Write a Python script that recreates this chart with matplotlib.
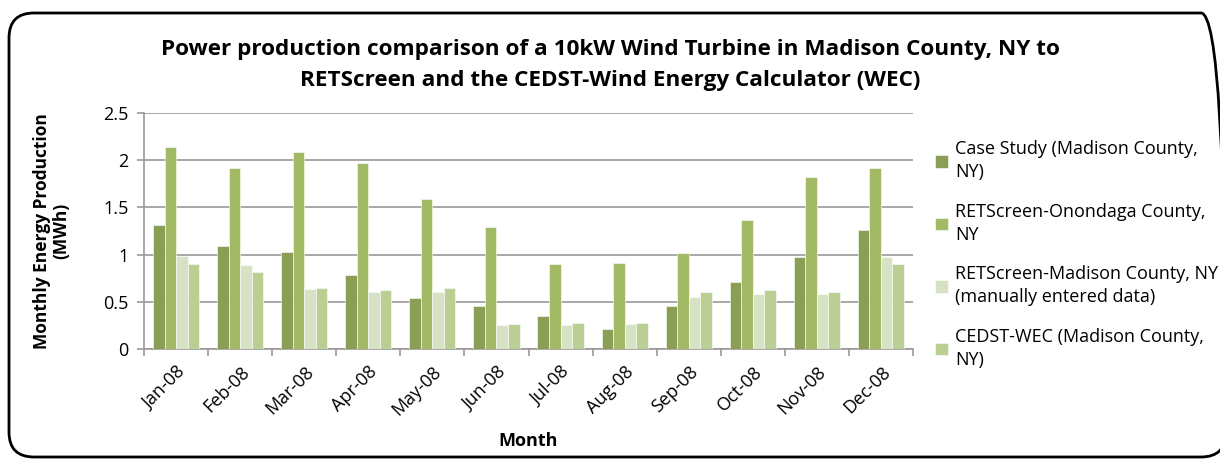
import numpy as np
import matplotlib
matplotlib.use("Agg")
import matplotlib.pyplot as plt
from matplotlib.patches import FancyBboxPatch

plt.rcParams['font.family'] = ['Open Sans', 'DejaVu Sans']

months = ['Jan-08', 'Feb-08', 'Mar-08', 'Apr-08', 'May-08', 'Jun-08',
          'Jul-08', 'Aug-08', 'Sep-08', 'Oct-08', 'Nov-08', 'Dec-08']

case_study = [1.31, 1.09, 1.03, 0.78, 0.54, 0.46, 0.35, 0.21, 0.46, 0.71, 0.97, 1.26]
ret_onondaga = [2.14, 1.92, 2.09, 1.97, 1.59, 1.29, 0.90, 0.91, 1.02, 1.37, 1.82, 1.92]
ret_madison = [0.99, 0.89, 0.64, 0.60, 0.60, 0.25, 0.25, 0.26, 0.55, 0.58, 0.58, 0.97]
cedst_wec = [0.90, 0.82, 0.65, 0.63, 0.65, 0.27, 0.28, 0.28, 0.60, 0.62, 0.60, 0.90]

labels = ['Case Study (Madison County,\nNY)',
          'RETScreen-Onondaga County,\nNY',
          'RETScreen-Madison County, NY\n(manually entered data)',
          'CEDST-WEC (Madison County,\nNY)']
colors = ['#8a9f55', '#a1ba63', '#d7e1c4', '#bbcf95']

fig = plt.figure(figsize=(12.2, 4.59), dpi=100)
ax = fig.add_axes([144/1220, 1 - 349/459, (913-144)/1220, (349-113)/459])

x = np.arange(len(months))
w = 0.18
series = [case_study, ret_onondaga, ret_madison, cedst_wec]
for i, (vals, c, lab) in enumerate(zip(series, colors, labels)):
    ax.bar(x + (i - 1.5) * w, vals, w, color=c, label=lab, edgecolor='white', linewidth=0.4, zorder=3)

ax.set_xlim(-0.5, len(months) - 0.5)
ax.set_ylim(0, 2.5)
ax.set_yticks([0, 0.5, 1, 1.5, 2, 2.5])
ax.set_yticklabels(['0', '0.5', '1', '1.5', '2', '2.5'], fontsize=13)
ax.yaxis.grid(True, color='#999999', linewidth=1.2, zorder=0)

ax.set_xticks(x)
ax.set_xticklabels(months, rotation=45, ha='right', rotation_mode='anchor', fontsize=13)
ax.set_xticks(np.arange(-0.5, len(months)), minor=True)
ax.tick_params(axis='x', which='major', length=0, pad=10)
ax.tick_params(axis='x', which='minor', length=5, color='#999999', width=1.2)
ax.tick_params(axis='y', length=5, color='#999999', width=1.2, pad=6)

for s in ['top', 'right']:
    ax.spines[s].set_visible(False)
for s in ['left', 'bottom']:
    ax.spines[s].set_color('#999999')
    ax.spines[s].set_linewidth(1.2)

ax.set_xlabel('Month', fontsize=13, fontweight='bold', labelpad=9)
ax.set_ylabel('Monthly Energy Production\n(MWh)', fontsize=12.5, fontweight='bold', labelpad=24,
              linespacing=1.1)

fig.suptitle('Power production comparison of a 10kW Wind Turbine in Madison County, NY to\n'
             'RETScreen and the CEDST-Wind Energy Calculator (WEC)',
             fontsize=16.2, fontweight='bold', y=0.915, linespacing=1.6)

leg = ax.legend(loc='upper left', bbox_to_anchor=(928/1220, 1 - 133/459), bbox_transform=fig.transFigure,
                frameon=False, fontsize=13, handlelength=0.7, handleheight=0.7, handletextpad=0.4,
                labelspacing=1.2, borderaxespad=0)
for t in leg.get_texts():
    t.set_linespacing(1.35)

# rounded chart-area border, in pixels
frame = FancyBboxPatch((9, 2), 1217, 444, boxstyle='round,pad=0,rounding_size=25',
                       transform=None, fill=False, edgecolor='black', linewidth=2)
fig.patches.append(frame)

fig.savefig('out.png', dpi=100)
